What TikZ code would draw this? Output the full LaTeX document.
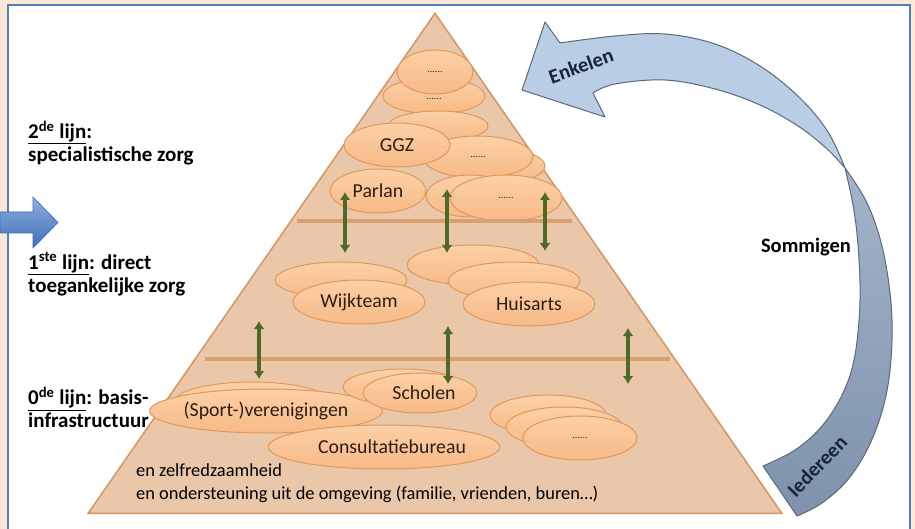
\documentclass[tikz,border=0pt]{standalone}
\usepackage{fontspec}
\setmainfont{Carlito}
\usetikzlibrary{arrows.meta,shapes.geometric}
\definecolor{peach}{RGB}{253,232,216}
\definecolor{frameblue}{RGB}{79,129,189}
\definecolor{pyrfill}{RGB}{235,199,170}
\definecolor{pyredge}{RGB}{212,150,100}
\definecolor{barcol}{RGB}{214,160,112}
\definecolor{ellfilltop}{RGB}{252,208,166}
\definecolor{ellfillbot}{RGB}{247,186,134}
\definecolor{elledge}{RGB}{222,152,92}
\definecolor{arrgreen}{RGB}{79,106,40}
\definecolor{upblue}{RGB}{185,205,228}
\definecolor{lowblue}{RGB}{140,162,190}
\definecolor{arredge}{RGB}{90,105,125}
\definecolor{navy}{RGB}{25,35,60}
\definecolor{leftblue}{RGB}{90,140,210}
\definecolor{leftbluedark}{RGB}{65,110,185}
\definecolor{txtbrown}{RGB}{45,30,20}
\tikzset{
  ell/.style={ellipse, draw=elledge, top color=ellfilltop, bottom color=ellfillbot, line width=1pt, inner sep=0pt,
    text=txtbrown, font=\fontsize{19.8}{19.8}\selectfont},
  dotsfont/.style={font=\fontsize{10}{10}\selectfont},
  greenarr/.style={draw=arrgreen, line width=3.5pt,
    {Latex[length=8pt,width=11pt]}-{Latex[length=8pt,width=11pt]}},
  barline/.style={draw=barcol, line width=4pt},
  lvl/.style={anchor=west, align=left, font=\bfseries\fontsize{21}{23}\selectfont, text=black, inner sep=0pt},
  arrtxt/.style={font=\bfseries\fontsize{20.5}{20.5}\selectfont, text=navy, inner sep=0pt}
}
\begin{document}
\begin{tikzpicture}[x=1pt,y=-1pt]
\useasboundingbox (0,0) rectangle (915,529);
% background and panel
\fill[peach] (0,0) rectangle (915,529);
\fill[white] (8,5) rectangle (910,535);
\draw[frameblue, line width=2.5pt] (8,535) -- (8,5) -- (910,5) -- (910,535);

% left blue arrow
\shade[top color=leftblue!70!white, bottom color=leftbluedark, draw=leftbluedark, line width=0.6pt]
  (0,212) -- (33,212) -- (33,197) -- (58,222.5) -- (33,248) -- (33,233) -- (0,233) -- cycle;

% pyramid
\node[draw=pyredge, fill=pyrfill, line width=1.5pt, isosceles triangle, shape border rotate=90,
  isosceles triangle apex angle=69.5, minimum height=500pt, inner sep=0pt, anchor=apex] (pyr) at (435,12) {};

% ellipses - top level
\node[ell, minimum width=102pt, minimum height=36pt] (t2) at (434,96) {};
\node[dotsfont, text=txtbrown] (t2t) at (434,99) {......};
\node[ell, minimum width=76pt, minimum height=44pt, dotsfont] (t1) at (435,72) {......};
\node[ell, minimum width=100pt, minimum height=30pt] (gb) at (438,126) {};
\node[ell, minimum width=80pt, minimum height=32pt] (d2b) at (505,166) {};
\node[ell, minimum width=110pt, minimum height=42pt, dotsfont] (d2) at (478,157) {......};
\node[ell, minimum width=106pt, minimum height=44pt] (ggz) at (397,145) {GGZ};
\node[ell, minimum width=88pt, minimum height=42pt] (p2b) at (470,196) {};
\node[ell, minimum width=112pt, minimum height=46pt, dotsfont] (p2) at (506,198) {......};
\node[ell, minimum width=96pt, minimum height=44pt] (parlan) at (378,191) {Parlan};

% middle level
\node[ell, minimum width=132pt, minimum height=36pt] (wb) at (341,280) {};
\node[ell, minimum width=132pt, minimum height=44pt] (wijk) at (359,302) {Wijkteam};
\node[ell, minimum width=132pt, minimum height=40pt] (h1) at (473,265) {};
\node[ell, minimum width=132pt, minimum height=38pt] (h2) at (514,281) {};
\node[ell, minimum width=132pt, minimum height=44pt] (huis) at (529,304) {Huisarts};

% bottom level
\node[ell, minimum width=156pt, minimum height=40pt] (sb) at (252,402) {};
\node[ell, minimum width=162pt, minimum height=44pt] (sport) at (266,411) {(Sport-)verenigingen};
\node[ell, minimum width=120pt, minimum height=36pt] (scb) at (403,387) {};
\node[ell, minimum width=114pt, minimum height=40pt] (schol) at (420,393) {\hspace*{8pt}Scholen};
\node[ell, minimum width=162pt, minimum height=44pt] (cons) at (384,447) {\hspace*{16pt}Consultatiebureau};
\node[ell, minimum width=116pt, minimum height=40pt] (r1) at (548,415) {};
\node[ell, minimum width=116pt, minimum height=40pt] (r2) at (564,427) {};
\node[ell, minimum width=114pt, minimum height=44pt, dotsfont] (r3) at (580,438) {......};

% separator bars
\coordinate (b1l) at (297,221); \coordinate (b1r) at (572,221);
\coordinate (b2l) at (205,359); \coordinate (b2r) at (670,359);
\draw[barline] (b1l) -- (b1r);
\draw[barline] (b2l) -- (b2r);

% green double arrows
\coordinate (ua1) at (345,192); \coordinate (ub1) at (345,253);
\coordinate (ua2) at (447,189); \coordinate (ub2) at (447,253);
\coordinate (ua3) at (545,192); \coordinate (ub3) at (545,251);
\coordinate (la1) at (259,321); \coordinate (lb1) at (259,379);
\coordinate (la2) at (448,326); \coordinate (lb2) at (448,384);
\coordinate (la3) at (628,328); \coordinate (lb3) at (628,384);
\draw[greenarr] (ua1) -- (ub1);
\draw[greenarr] (ua2) -- (ub2);
\draw[greenarr] (ua3) -- (ub3);
\draw[greenarr] (la1) -- (lb1);
\draw[greenarr] (la2) -- (lb2);
\draw[greenarr] (la3) -- (lb3);

% bottom text
\node[anchor=west, align=left, inner sep=0pt, font=\fontsize{18.4}{23}\selectfont, text=black] (base) at (136,483.5)
  {en zelfredzaamheid\\en ondersteuning uit de omgeving (familie, vrienden, buren…)};

% level labels
\node[lvl] (l2) at (28,143) {\underline{2\textsuperscript{de} lijn}:\\specialistische zorg};
\node[lvl] (l1) at (28,274) {\underline{1\textsuperscript{ste} lijn}: direct\\toegankelijke zorg};
\node[lvl] (l0) at (28,407.5) {\underline{0\textsuperscript{de} lijn}: basis-\\infrastructuur};

% curved arrow - upper (light) part
\draw[fill=upblue, draw=arredge, line width=1pt, line join=round]
  (522,90) -- (545,22) -- (560,43)
  -- plot[smooth, tension=0.6] coordinates {(560,43) (615,36) (665,34) (715,44) (760,66) (800,98) (828,132) (845,168)}
  -- plot[smooth, tension=0.6] coordinates {(845,168) (826,148) (798,126) (760,105) (715,89) (665,80) (615,84) (593,93)}
  -- (605,117) -- cycle;
% lower (darker) part
\shade[top color=lowblue!80!white, bottom color=lowblue!90!black, draw=arredge, line width=1pt, line join=round]
  plot[smooth, tension=0.6] coordinates {(845,168) (868,205) (884,255) (892,320) (888,385) (873,437) (850,477) (822,503) (797,516)}
  -- (763,466)
  -- plot[smooth, tension=0.6] coordinates {(763,466) (795,450) (822,426) (843,393) (855,355) (860,300) (858,245) (853,205) (845,168)}
  -- cycle;

\node[arrtxt, rotate=20] (enk) at (581,66) {Enkelen};
\node[arrtxt, rotate=46] (ied) at (817,466) {Iedereen};
\node[arrtxt, text=black] (som) at (806,247) {Sommigen};
\end{tikzpicture}
\end{document}
